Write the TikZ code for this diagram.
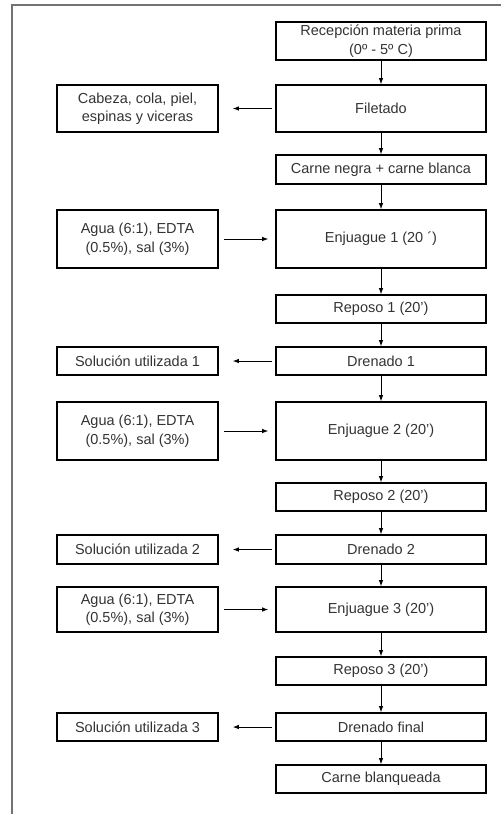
\documentclass[tikz,border=0pt]{standalone}
\usepackage{fontspec}
\setmainfont{Liberation Sans}
\usetikzlibrary{arrows.meta}
\begin{document}
\begin{tikzpicture}[x=1pt,y=-1pt,
  box/.style={draw=black, line width=1.6pt, inner sep=0pt, align=center,
    text=black!80, font=\fontsize{14.5}{18.5}\selectfont},
  mainbox/.style={box, minimum width=210pt},
  sidebox/.style={box, minimum width=161pt},
  arr/.style={draw=black, line width=0.9pt, -{Latex[length=6pt,width=4.5pt]}},
  frame/.style={draw=black!55, line width=1.3pt}]
\useasboundingbox (0,0) rectangle (501,814);
\coordinate (ftop) at (12,5);
\coordinate (fright) at (501,5);
\coordinate (fbot) at (12,814);
\draw[frame] (fright) -- (ftop) -- (fbot);

\node[mainbox, minimum height=38pt] (rec) at (381,41) {Recepción materia prima\\(0º - 5º C)};
\node[mainbox, minimum height=47pt] (fil) at (381,108.5) {Filetado};
\node[sidebox, minimum height=47pt] (cab) at (137.5,108.5) {Cabeza, cola, piel,\\espinas y viceras};
\node[mainbox, minimum height=29pt] (neg) at (381,169.5) {Carne negra + carne blanca};
\node[sidebox, minimum height=58pt] (ag1) at (137.5,239) {Agua (6:1), EDTA\\(0.5\%), sal (3\%)};
\node[mainbox, minimum height=58pt] (enj1) at (381,239) {Enjuague 1 (20 ´)};
\node[mainbox, minimum height=28pt] (rep1) at (381,309) {Reposo 1 (20’)};
\node[mainbox, minimum height=28pt] (dr1) at (381,361) {Drenado 1};
\node[sidebox, minimum height=28pt] (sol1) at (137.5,361) {Solución utilizada 1};
\node[sidebox, minimum height=58pt] (ag2) at (137.5,431) {Agua (6:1), EDTA\\(0.5\%), sal (3\%)};
\node[mainbox, minimum height=58pt] (enj2) at (381,431) {Enjuague 2 (20’)};
\node[mainbox, minimum height=28pt] (rep2) at (381,497) {Reposo 2 (20’)};
\node[mainbox, minimum height=29pt] (dr2) at (381,549.5) {Drenado 2};
\node[sidebox, minimum height=29pt] (sol2) at (137.5,549.5) {Solución utilizada 2};
\node[sidebox, minimum height=45pt] (ag3) at (137.5,609.5) {Agua (6:1), EDTA\\(0.5\%), sal (3\%)};
\node[mainbox, minimum height=45pt] (enj3) at (381,609.5) {Enjuague 3 (20’)};
\node[mainbox, minimum height=28pt] (rep3) at (381,671) {Reposo 3 (20’)};
\node[mainbox, minimum height=28pt] (drf) at (381,727) {Drenado final};
\node[sidebox, minimum height=28pt] (sol3) at (137.5,727) {Solución utilizada 3};
\node[mainbox, minimum height=28pt] (blq) at (381,779) {Carne blanqueada};

\foreach \a/\b in {rec/fil, fil/neg, neg/enj1, enj1/rep1, rep1/dr1, dr1/enj2, enj2/rep2, rep2/dr2, dr2/enj3, enj3/rep3, rep3/drf, drf/blq}
  \draw[arr] (\a.south) -- (\b.north);

\draw[arr, shorten <=3pt, shorten >=14pt] (fil.west) -- (cab.east);
\draw[arr, shorten <=3pt, shorten >=14pt] (dr1.west) -- (sol1.east);
\draw[arr, shorten <=3pt, shorten >=14pt] (dr2.west) -- (sol2.east);
\draw[arr, shorten <=3pt, shorten >=14pt] (drf.west) -- (sol3.east);
\draw[arr, shorten <=5pt, shorten >=7pt] (ag1.east) -- (enj1.west);
\draw[arr, shorten <=5pt, shorten >=7pt] (ag2.east) -- (enj2.west);
\draw[arr, shorten <=5pt, shorten >=7pt] (ag3.east) -- (enj3.west);
\end{tikzpicture}
\end{document}
